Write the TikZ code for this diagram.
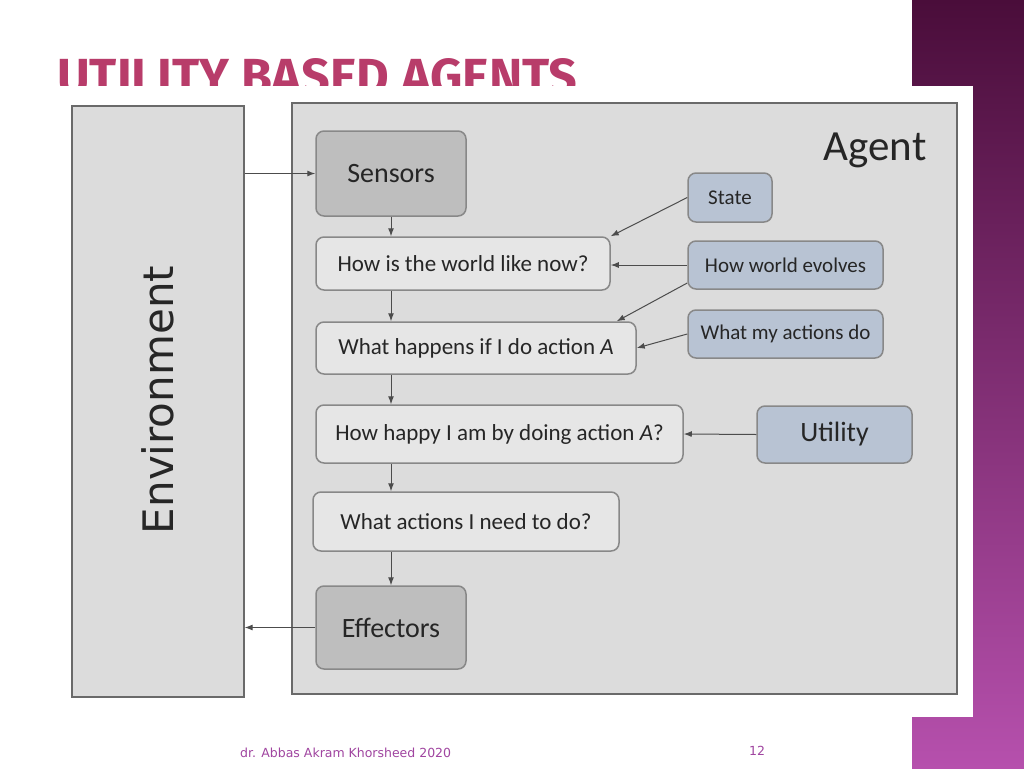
\documentclass[tikz,border=0pt]{standalone}
\usepackage{fontspec}
\setmainfont{Carlito}
\newfontfamily\envfont{DejaVu Sans}
\newfontfamily\titlefont{Fira Sans}
\usepackage{xcolor}
\usetikzlibrary{arrows.meta}

\definecolor{titlerose}{HTML}{B83C6A}
\definecolor{footpurple}{HTML}{A045A0}
\definecolor{barTop}{HTML}{4A0D3A}
\definecolor{barBottom}{HTML}{B650AD}
\definecolor{panelgray}{HTML}{DCDCDC}
\definecolor{boxgray}{HTML}{E6E6E6}
\definecolor{darkbox}{HTML}{BEBEBE}
\definecolor{bluebox}{HTML}{B8C3D3}
\definecolor{edgegray}{HTML}{6A6A6A}

\tikzset{
  framebox/.style={draw=edgegray, line width=1.3pt, fill=panelgray, inner sep=0pt},
  stepbox/.style={draw=edgegray!80, line width=1.5pt, rounded corners=8pt, fill=boxgray,
    inner sep=0pt, text=black!85, font=\fontsize{23}{27}\selectfont},
  bigbox/.style={stepbox, fill=darkbox, font=\fontsize{28}{32}\selectfont},
  infobox/.style={stepbox, fill=bluebox, font=\fontsize{21}{25}\selectfont},
  arr/.style={draw=black!70, line width=1pt, -{Latex[length=8pt,width=6pt]}}
}

\begin{document}
\begin{tikzpicture}[x=1pt,y=-1pt]
  \useasboundingbox (0,0) rectangle (1024,768);
  \fill[white] (0,0) rectangle (1024,768);

  % slide background
  \shade[top color=barTop, bottom color=barBottom] (912,0) rectangle (1024,768);
  \node[anchor=south west, inner sep=0pt, text=titlerose] (title) at (57,96)
    {\resizebox{520pt}{36pt}{\titlefont\bfseries UTILITY BASED AGENTS}};
  \fill[white] (50,86) rectangle (973,717);

  % frames
  \node[framebox, minimum width=172pt, minimum height=591pt] (env) at (158,401.5) {};
  \node[rotate=90, text=black!85, font=\envfont\fontsize{42}{46}\selectfont] (envtext) at (158,400) {Environment};
  \node[framebox, minimum width=665pt, minimum height=591pt] (agent) at (624.5,398.5) {};
  \node[text=black!85, font=\fontsize{43}{47}\selectfont] (agenttext) at (875,150) {Agent};

  % main chain
  \node[bigbox, minimum width=150pt, minimum height=85pt] (sensors) at (391,173.5) {Sensors};
  \node[stepbox, minimum width=294pt, minimum height=53pt] (hownow) at (463,263.5) {How is the world like now?};
  \node[stepbox, minimum width=320pt, minimum height=52pt] (happens) at (476,348) {What happens if I do action \textit{A}};
  \node[stepbox, minimum width=367pt, minimum height=58pt] (happy) at (499.5,434) {How happy I am by doing action \textit{A}?};
  \node[stepbox, minimum width=306pt, minimum height=59pt] (needdo) at (466,521.5) {What actions I need to do?};
  \node[bigbox, minimum width=150pt, minimum height=83pt] (effectors) at (391,627.5) {Effectors};

  % knowledge
  \node[infobox, minimum width=84pt, minimum height=49pt] (state) at (730,197.5) {State};
  \node[infobox, minimum width=195pt, minimum height=48pt] (evolves) at (785.5,265) {How world evolves};
  \node[infobox, minimum width=195pt, minimum height=48pt] (actdo) at (785.5,334) {What my actions do};
  \node[bigbox, fill=bluebox, minimum width=155pt, minimum height=57pt] (utility) at (834.5,434.5) {Utility};

  % connectors
  \draw[arr] (env.east |- sensors.west) -- (sensors.west);
  \draw[arr] (sensors.south) -- (sensors.south |- hownow.north);
  \draw[arr] (sensors.south |- hownow.south) -- (sensors.south |- happens.north);
  \draw[arr] (sensors.south |- happens.south) -- (sensors.south |- happy.north);
  \draw[arr] (sensors.south |- happy.south) -- (sensors.south |- needdo.north);
  \draw[arr] (effectors.north |- needdo.south) -- (effectors.north);
  \draw[arr] (effectors.west) -- (env.east |- effectors.west);

  \draw[arr] (state.west) -- (hownow.north east);
  \draw[arr] (evolves.west) -- (hownow.east |- evolves.west);
  \draw[arr] ([yshift=-18pt]evolves.west) -- ([xshift=-20pt]happens.north east);
  \draw[arr] (actdo.west) -- (happens.east);
  \draw[arr] (utility.west) -- (happy.east);

  % footer
  \node[anchor=base west, inner sep=0pt, text=footpurple, font=\envfont\fontsize{12.5}{14}\selectfont] (author) at (240,757) {dr. Abbas Akram Khorsheed 2020};
  \node[anchor=base, inner sep=0pt, text=footpurple, font=\envfont\fontsize{12.5}{14}\selectfont] (pageno) at (757,755) {12};
\end{tikzpicture}
\end{document}
